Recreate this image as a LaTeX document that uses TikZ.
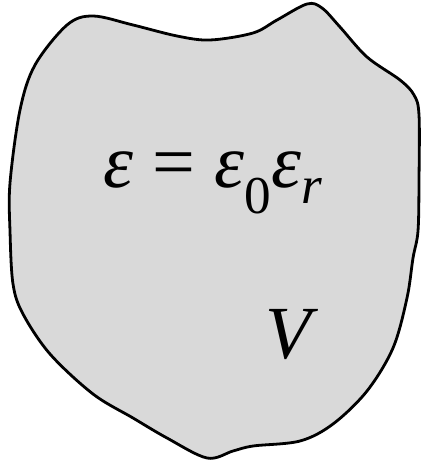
\documentclass[tikz,border=0pt]{standalone}
\usepackage{fontspec}
\setmainfont{Liberation Serif}
\usetikzlibrary{calc}
\definecolor{blobgray}{RGB}{217,217,217}
\newcommand{\epsi}{\textit{ε}}

\begin{document}
\begin{tikzpicture}[x=1pt,y=-1pt]
\useasboundingbox (0,0) rectangle (421,462);
\draw[line width=2.8pt,fill=blobgray] plot[smooth cycle,tension=0.55] coordinates {
  (35,65) (67,25) (93,16) (133,25) (177,36) (210,40) (253,33) (277,20) (307,4) (322,8)
  (340,27) (367,57) (400,80) (414,95) (419,115) (419,180) (418,231) (413,258) (407,298)
  (393,348) (367,391) (333,424) (300,441) (253,446) (233,451) (207,458) (167,438)
  (133,418) (93,394) (50,354) (23,314) (13,284) (10,231) (10,183) (20,110)};
\node[anchor=base,inner sep=0pt,font=\fontsize{76}{90}\selectfont] (eq) at (213,187)
  {\epsi{} = \epsi\textsubscript{0}\epsi\textsubscript{\textit{r}}};
\node[anchor=base,inner sep=0pt,font=\fontsize{75}{90}\selectfont\itshape] (vol) at (288,358) {V};
\end{tikzpicture}
\end{document}
